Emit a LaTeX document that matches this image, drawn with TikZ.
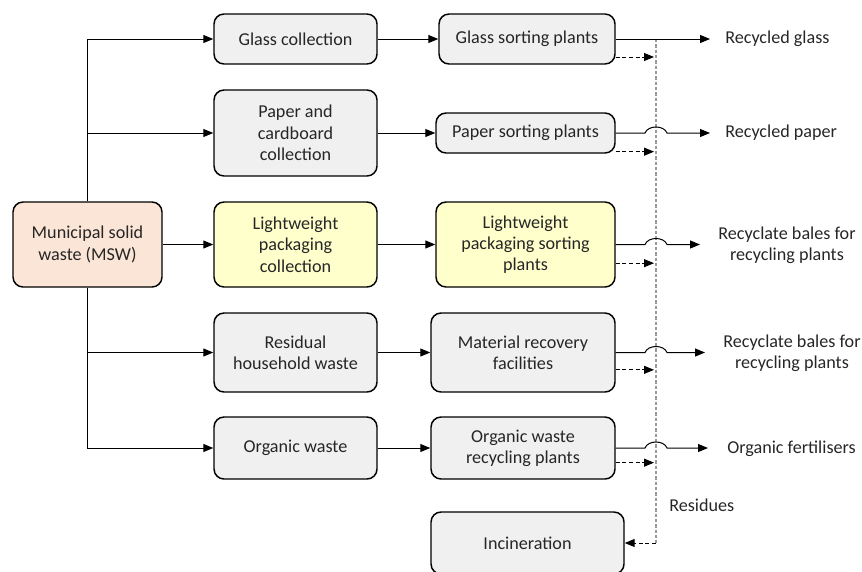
\documentclass[tikz,border=0pt]{standalone}
\usepackage{fontspec}
\setmainfont{Carlito}
\usetikzlibrary{arrows.meta}
\definecolor{boxgrey}{HTML}{F0F0F0}
\definecolor{mswfill}{HTML}{FBE5D6}
\definecolor{lwfill}{HTML}{FFFFCC}
\definecolor{txt}{HTML}{262626}
\definecolor{dashgrey}{HTML}{9A9A9A}
\tikzset{
  box/.style={draw=black, line width=1.1pt, rounded corners=7.5pt, fill=boxgrey,
    inner sep=0pt, align=center, text=txt, font=\fontsize{13.6}{16}\selectfont},
  lbl/.style={inner sep=0pt, align=center, text=txt, font=\fontsize{13.6}{16}\selectfont},
  tip/.style={-{Triangle[length=7.5pt,width=6pt]}},
  flow/.style={tip, draw=black, line width=0.75pt},
  residue/.style={tip, draw=black, line width=0.75pt, dash pattern=on 3pt off 2pt},
  trunk/.style={draw=dashgrey, line width=1.1pt, dash pattern=on 2.5pt off 1.5pt},
}
\begin{document}
\begin{tikzpicture}[x=0.75pt, y=-0.75pt]
\useasboundingbox (0,0) rectangle (862,571);

% source
\node[box, fill=mswfill, minimum width=111.75pt, minimum height=63.75pt] (msw) at (87.5,244.5) {Municipal solid\\waste (MSW)};

% collection systems
\node[box, minimum width=122.25pt, minimum height=37.5pt] (glasscol) at (295.5,39) {Glass collection};
\node[box, minimum width=122.25pt, minimum height=64.5pt] (papercol) at (295.5,133) {Paper and\\cardboard\\collection};
\node[box, fill=lwfill, minimum width=122.25pt, minimum height=63.75pt] (lwcol) at (295.5,244.5) {Lightweight\\packaging\\collection};
\node[box, minimum width=122.25pt, minimum height=59.25pt] (rescol) at (295.5,352.5) {Residual\\household waste};
\node[box, minimum width=122.25pt, minimum height=46.5pt] (orgcol) at (295.5,448) {Organic waste};

% treatment plants
\node[box, minimum width=132pt, minimum height=37.5pt] (glasssort) at (527,39) {Glass sorting plants};
\node[box, minimum width=134.25pt, minimum height=30pt] (papersort) at (525.5,133) {Paper sorting plants};
\node[box, fill=lwfill, minimum width=134.25pt, minimum height=63.75pt] (lwsort) at (525.5,244.5) {Lightweight\\packaging sorting\\plants};
\node[box, minimum width=138pt, minimum height=59.25pt] (mrf) at (523,352.5) {Material recovery\\facilities};
\node[box, minimum width=138pt, minimum height=46.5pt] (orgsort) at (523,448) {Organic waste\\recycling plants};
\node[box, minimum width=144.75pt, minimum height=46.5pt] (incin) at (527.5,543) {Incineration};

% products
\node[lbl, anchor=west] (outglass) at (725,39) {Recycled glass};
\node[lbl, anchor=west] (outpaper) at (725,133) {Recycled paper};
\node[lbl] (outlw) at (787,245) {Recyclate bales for\\recycling plants};
\node[lbl] (outmrf) at (792,353) {Recyclate bales for\\recycling plants};
\node[lbl, anchor=west] (outorg) at (727,449) {Organic fertilisers};
\node[lbl, anchor=west] (residues) at (669,505) {Residues};

% arrow ends in front of the product labels
\coordinate (tglass) at (710,39);
\coordinate (tpaper) at (710,133);
\coordinate (tlw) at (700,244.5);
\coordinate (tmrf) at (705,352.5);
\coordinate (torg) at (708,448);

% residue collector line
\coordinate (vtop) at (656,39);
\coordinate (vbot) at (656,543);
\coordinate (hopA) at (645,0);
\coordinate (hopB) at (667,0);
\coordinate (dtip) at (654,0);

% MSW distribution
\draw[flow] (msw.north) |- (glasscol.west);
\draw[flow] (msw.north) |- (papercol.west);
\draw[flow] (msw.east) -- (lwcol.west);
\draw[flow] (msw.south) |- (rescol.west);
\draw[flow] (msw.south) |- (orgcol.west);

% collection to treatment
\draw[flow] (glasscol.east) -- (glasssort.west);
\draw[flow] (papercol.east) -- (papersort.west);
\draw[flow] (lwcol.east) -- (lwsort.west);
\draw[flow] (rescol.east) -- (mrf.west);
\draw[flow] (orgcol.east) -- (orgsort.west);

% residue line to incineration
\draw[trunk] (vtop) -- (vbot);
\draw[residue] (vbot) -- (incin.east);

% products (with hops over the residue line)
\draw[flow] (glasssort.east) -- (tglass);
\draw[flow] (papersort.east) -- (papersort.east -| hopA) .. controls +(3,-8) and +(-3,-8) .. (papersort.east -| hopB) -- (tpaper);
\draw[flow] (lwsort.east |- tlw) -- (tlw -| hopA) .. controls +(3,-8) and +(-3,-8) .. (tlw -| hopB) -- (tlw);
\draw[flow] (mrf.east) -- (mrf.east -| hopA) .. controls +(3,-8) and +(-3,-8) .. (mrf.east -| hopB) -- (tmrf);
\draw[flow] (orgsort.east) -- (orgsort.east -| hopA) .. controls +(3,-8) and +(-3,-8) .. (orgsort.east -| hopB) -- (torg);

% residues from each plant
\draw[residue] ([yshift=-13.5pt]glasssort.east) -- ([yshift=-13.5pt]glasssort.east -| dtip);
\draw[residue] ([yshift=-14pt]papersort.east) -- ([yshift=-14pt]papersort.east -| dtip);
\draw[residue] ([yshift=-14pt]lwsort.east) -- ([yshift=-14pt]lwsort.east -| dtip);
\draw[residue] ([yshift=-13pt]mrf.east) -- ([yshift=-13pt]mrf.east -| dtip);
\draw[residue] ([yshift=-11pt]orgsort.east) -- ([yshift=-11pt]orgsort.east -| dtip);
\end{tikzpicture}
\end{document}
